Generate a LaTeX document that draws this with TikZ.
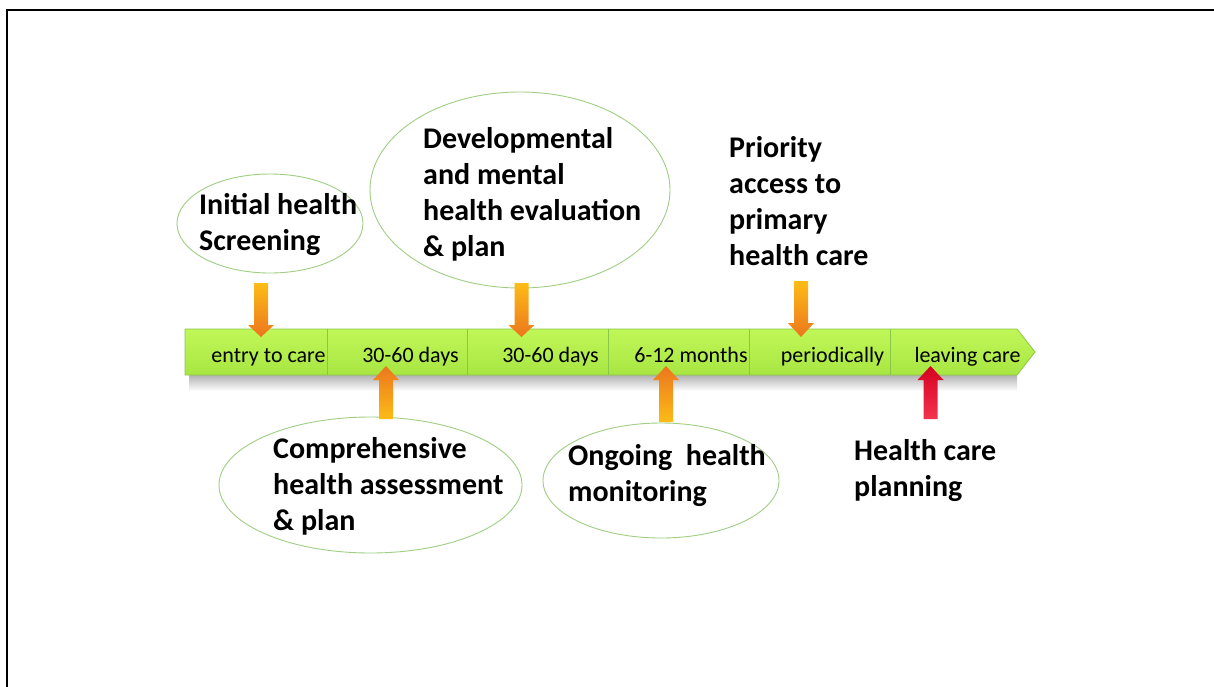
\documentclass[tikz,border=0pt]{standalone}
\usepackage{fontspec}
\setmainfont{Carlito}
\usetikzlibrary{shapes.geometric}
\definecolor{barTop}{RGB}{192,247,88}
\definecolor{barBot}{RGB}{168,230,66}
\definecolor{barLine}{RGB}{138,198,72}
\definecolor{ellLine}{RGB}{160,206,132}
\definecolor{arrA}{RGB}{252,188,22}
\definecolor{arrB}{RGB}{236,118,30}
\definecolor{redA}{RGB}{214,0,32}
\definecolor{redB}{RGB}{242,52,78}
\newcommand\dnblock[6]{% x, ytop, yheadbase, ytip, topcolor, bottomcolor
  \shade[top color=#5, bottom color=#6] (#1-7,#2) -- (#1+7,#2) -- (#1+7,#3) -- (#1+13,#3) -- (#1,#4) -- (#1-13,#3) -- (#1-7,#3) -- cycle;}
\newcommand\upblock[6]{% x, ytip, yheadbase, ybottom, topcolor, bottomcolor
  \shade[top color=#5, bottom color=#6] (#1,#2) -- (#1+13,#3) -- (#1+7,#3) -- (#1+7,#4) -- (#1-7,#4) -- (#1-7,#3) -- (#1-13,#3) -- cycle;}
\begin{document}
\begin{tikzpicture}[x=1pt,y=-1pt,
  bub/.style={ellipse, draw=ellLine, line width=0.9pt, inner sep=0pt},
  big/.style={font=\fontsize{30}{36}\selectfont\bfseries, align=left, anchor=north west, inner sep=0pt},
  seg/.style={rectangle, inner sep=0pt, minimum height=46pt},
  lab/.style={font=\fontsize{22}{26}\selectfont, anchor=base, inner sep=0pt},
  divider/.style={draw=barLine, line width=0.8pt}]
\useasboundingbox (0,0) rectangle (1214,686);
\fill[white] (0,0) rectangle (1214,686);
% frame
\draw[line width=2.5pt] (7,700) -- (7,10) -- (1230,10);

% ellipses
\node[bub, minimum width=186pt, minimum height=99pt] (e1) at (270,223.5) {};
\node[bub, minimum width=300pt, minimum height=196pt] (e2) at (520,190) {};
\node[bub, minimum width=303pt, minimum height=136pt] (e3) at (370.5,485) {};
\node[bub, minimum width=236pt, minimum height=115pt] (e4) at (661,480.5) {};

% texts
\node[big] (t1) at (199,188.8) {\strut Initial health\\Screening};
\node[big] (t2) at (423,122.8) {\strut Developmental\\and mental\\health evaluation\\\& plan};
\node[big] (t3) at (729,131.8) {\strut Priority\\access to\\primary\\health care};
\node[big] (t4) at (273,432.8) {\strut Comprehensive\\health assessment\\\& plan};
\node[big] (t5) at (568,439.8) {\strut Ongoing\ \ health\\monitoring};
\node[big] (t6) at (854,434.8) {\strut Health care\\planning};

% timeline shadow
\shade[top color=black!30, bottom color=white] (189,375) rectangle (1017,391);
% timeline bar
\shadedraw[top color=barTop, bottom color=barBot, draw=barLine, line width=0.8pt]
  (185,329) -- (1017,329) -- (1035,352) -- (1017,375) -- (185,375) -- cycle;
\node[seg, minimum width=142pt] (s1) at (256,352) {};
\node[seg, minimum width=140pt] (s2) at (397,352) {};
\node[seg, minimum width=141pt] (s3) at (537.5,352) {};
\node[seg, minimum width=141pt] (s4) at (678.5,352) {};
\node[seg, minimum width=141pt] (s5) at (819.5,352) {};
\node[seg, minimum width=127pt] (s6) at (953.5,352) {};
\foreach \s in {s1,s2,s3,s4,s5}
  \draw[divider] (\s.north east) -- (\s.south east);

\node[lab] (l1) at (268.5,362) {entry to care};
\node[lab] (l2) at (410.5,362) {30-60 days};
\node[lab] (l3) at (550.5,362) {30-60 days};
\node[lab] (l4) at (691,362) {6-12 months};
\node[lab] (l5) at (832.5,362) {periodically};
\node[lab] (l6) at (967.5,362) {leaving care};

% block arrows
\dnblock{261}{283}{325}{337}{arrA}{arrB}
\dnblock{521.5}{283}{325}{337}{arrA}{arrB}
\dnblock{801}{281}{323}{337}{arrA}{arrB}
\upblock{386}{366}{380}{419}{arrB}{arrA}
\upblock{666}{366}{380}{422}{arrB}{arrA}
\upblock{930.5}{366}{380}{419}{redA}{redB}
\end{tikzpicture}
\end{document}
